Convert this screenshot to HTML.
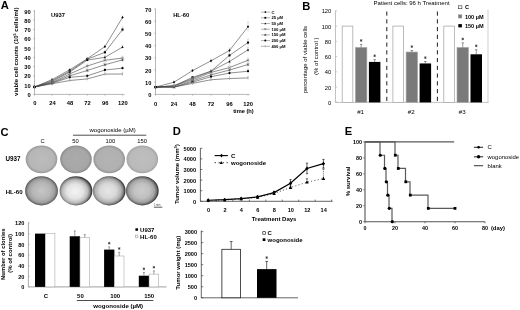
<!DOCTYPE html>
<html><head><meta charset="utf-8"><style>
html,body{margin:0;padding:0;background:#fff;}
body{width:520px;height:310px;overflow:hidden;}
svg{display:block;font-family:"Liberation Sans", sans-serif;filter:grayscale(1);}
</style></head><body>
<svg width="520" height="310" viewBox="0 0 520 310" font-family='"Liberation Sans", sans-serif'>
<rect width="520" height="310" fill="#fff"/>
<text transform="translate(0.80 8.75) scale(1 1.0)" font-size="11.2" font-weight="bold" fill="#000">A</text>
<line x1="34.50" y1="10.20" x2="34.50" y2="94.40" stroke="#888" stroke-width="0.6"/>
<line x1="34.50" y1="94.40" x2="124.50" y2="94.40" stroke="#888" stroke-width="0.6"/>
<line x1="33.20" y1="94.40" x2="34.50" y2="94.40" stroke="#888" stroke-width="0.5"/>
<text x="30.80" y="97.00" font-size="5.8" font-weight="bold" text-anchor="end" fill="#000">0</text>
<line x1="33.20" y1="85.13" x2="34.50" y2="85.13" stroke="#888" stroke-width="0.5"/>
<text x="30.80" y="87.73" font-size="5.8" font-weight="bold" text-anchor="end" fill="#000">10</text>
<line x1="33.20" y1="75.86" x2="34.50" y2="75.86" stroke="#888" stroke-width="0.5"/>
<text x="30.80" y="78.46" font-size="5.8" font-weight="bold" text-anchor="end" fill="#000">20</text>
<line x1="33.20" y1="66.59" x2="34.50" y2="66.59" stroke="#888" stroke-width="0.5"/>
<text x="30.80" y="69.19" font-size="5.8" font-weight="bold" text-anchor="end" fill="#000">30</text>
<line x1="33.20" y1="57.32" x2="34.50" y2="57.32" stroke="#888" stroke-width="0.5"/>
<text x="30.80" y="59.92" font-size="5.8" font-weight="bold" text-anchor="end" fill="#000">40</text>
<line x1="33.20" y1="48.05" x2="34.50" y2="48.05" stroke="#888" stroke-width="0.5"/>
<text x="30.80" y="50.65" font-size="5.8" font-weight="bold" text-anchor="end" fill="#000">50</text>
<line x1="33.20" y1="38.78" x2="34.50" y2="38.78" stroke="#888" stroke-width="0.5"/>
<text x="30.80" y="41.38" font-size="5.8" font-weight="bold" text-anchor="end" fill="#000">60</text>
<line x1="33.20" y1="29.51" x2="34.50" y2="29.51" stroke="#888" stroke-width="0.5"/>
<text x="30.80" y="32.11" font-size="5.8" font-weight="bold" text-anchor="end" fill="#000">70</text>
<line x1="33.20" y1="20.24" x2="34.50" y2="20.24" stroke="#888" stroke-width="0.5"/>
<text x="30.80" y="22.84" font-size="5.8" font-weight="bold" text-anchor="end" fill="#000">80</text>
<line x1="33.20" y1="10.97" x2="34.50" y2="10.97" stroke="#888" stroke-width="0.5"/>
<text x="30.80" y="13.57" font-size="5.8" font-weight="bold" text-anchor="end" fill="#000">90</text>
<line x1="34.50" y1="94.40" x2="34.50" y2="95.70" stroke="#888" stroke-width="0.5"/>
<text x="34.80" y="105.20" font-size="5.8" font-weight="bold" text-anchor="middle" fill="#000">0</text>
<line x1="52.10" y1="94.40" x2="52.10" y2="95.70" stroke="#888" stroke-width="0.5"/>
<text x="52.40" y="105.20" font-size="5.8" font-weight="bold" text-anchor="middle" fill="#000">24</text>
<line x1="69.70" y1="94.40" x2="69.70" y2="95.70" stroke="#888" stroke-width="0.5"/>
<text x="70.00" y="105.20" font-size="5.8" font-weight="bold" text-anchor="middle" fill="#000">48</text>
<line x1="87.30" y1="94.40" x2="87.30" y2="95.70" stroke="#888" stroke-width="0.5"/>
<text x="87.60" y="105.20" font-size="5.8" font-weight="bold" text-anchor="middle" fill="#000">72</text>
<line x1="104.90" y1="94.40" x2="104.90" y2="95.70" stroke="#888" stroke-width="0.5"/>
<text x="105.20" y="105.20" font-size="5.8" font-weight="bold" text-anchor="middle" fill="#000">96</text>
<line x1="122.50" y1="94.40" x2="122.50" y2="95.70" stroke="#888" stroke-width="0.5"/>
<text x="122.80" y="105.20" font-size="5.8" font-weight="bold" text-anchor="middle" fill="#000">120</text>
<text x="18.10" y="51.75" font-size="6.02" font-weight="bold" text-anchor="middle" fill="#000" transform="rotate(-90 18.1 51.75)">viable cell counts (10<tspan font-size="3.8" dy="-1.9">5</tspan><tspan dy="1.9"> cells/ml)</tspan></text>
<text x="51.00" y="17.00" font-size="5.8" font-weight="bold" text-anchor="start" fill="#000">U937</text>
<polyline points="34.50,86.98 52.10,79.57 69.70,69.83 87.30,58.71 104.90,46.66 122.50,17.46" fill="none" stroke="#444" stroke-width="0.6"/>
<polyline points="34.50,86.98 52.10,80.50 69.70,71.23 87.30,59.17 104.90,52.31 122.50,29.51" fill="none" stroke="#444" stroke-width="0.6"/>
<polyline points="34.50,86.98 52.10,81.42 69.70,72.15 87.30,60.10 104.90,57.32 122.50,47.12" fill="none" stroke="#444" stroke-width="0.6"/>
<polyline points="34.50,86.98 52.10,82.35 69.70,74.01 87.30,66.03 104.90,60.29 122.50,58.06" fill="none" stroke="#444" stroke-width="0.6"/>
<polyline points="34.50,86.98 52.10,82.81 69.70,75.86 87.30,70.48 104.90,64.74 122.50,59.92" fill="none" stroke="#444" stroke-width="0.6"/>
<polyline points="34.50,86.98 52.10,83.28 69.70,77.34 87.30,75.86 104.90,70.02 122.50,68.17" fill="none" stroke="#444" stroke-width="0.6"/>
<polyline points="34.50,86.98 52.10,83.74 69.70,80.50 87.30,78.92 104.90,74.10 122.50,74.01" fill="none" stroke="#444" stroke-width="0.6"/>
<path d="M34.50 85.60L35.65 86.98L34.50 88.36L33.35 86.98Z" fill="#000"/>
<line x1="52.10" y1="78.64" x2="52.10" y2="80.50" stroke="#bbb" stroke-width="0.5"/>
<line x1="51.30" y1="78.64" x2="52.90" y2="78.64" stroke="#bbb" stroke-width="0.5"/>
<path d="M52.10 78.19L53.25 79.57L52.10 80.95L50.95 79.57Z" fill="#000"/>
<line x1="69.70" y1="68.91" x2="69.70" y2="70.76" stroke="#bbb" stroke-width="0.5"/>
<line x1="68.90" y1="68.91" x2="70.50" y2="68.91" stroke="#bbb" stroke-width="0.5"/>
<path d="M69.70 68.45L70.85 69.83L69.70 71.21L68.55 69.83Z" fill="#000"/>
<line x1="87.30" y1="57.32" x2="87.30" y2="60.10" stroke="#bbb" stroke-width="0.5"/>
<line x1="86.50" y1="57.32" x2="88.10" y2="57.32" stroke="#bbb" stroke-width="0.5"/>
<path d="M87.30 57.33L88.45 58.71L87.30 60.09L86.15 58.71Z" fill="#000"/>
<line x1="104.90" y1="45.27" x2="104.90" y2="48.05" stroke="#bbb" stroke-width="0.5"/>
<line x1="104.10" y1="45.27" x2="105.70" y2="45.27" stroke="#bbb" stroke-width="0.5"/>
<path d="M104.90 45.28L106.05 46.66L104.90 48.04L103.75 46.66Z" fill="#000"/>
<line x1="122.50" y1="16.07" x2="122.50" y2="18.85" stroke="#bbb" stroke-width="0.5"/>
<line x1="121.70" y1="16.07" x2="123.30" y2="16.07" stroke="#bbb" stroke-width="0.5"/>
<path d="M122.50 16.08L123.65 17.46L122.50 18.84L121.35 17.46Z" fill="#000"/>
<rect x="33.47" y="85.95" width="2.07" height="2.07" fill="#000" stroke="none" stroke-width="0.6"/>
<line x1="52.10" y1="79.57" x2="52.10" y2="81.42" stroke="#bbb" stroke-width="0.5"/>
<line x1="51.30" y1="79.57" x2="52.90" y2="79.57" stroke="#bbb" stroke-width="0.5"/>
<rect x="51.07" y="79.46" width="2.07" height="2.07" fill="#000" stroke="none" stroke-width="0.6"/>
<line x1="69.70" y1="70.30" x2="69.70" y2="72.15" stroke="#bbb" stroke-width="0.5"/>
<line x1="68.90" y1="70.30" x2="70.50" y2="70.30" stroke="#bbb" stroke-width="0.5"/>
<rect x="68.67" y="70.19" width="2.07" height="2.07" fill="#000" stroke="none" stroke-width="0.6"/>
<line x1="87.30" y1="57.78" x2="87.30" y2="60.56" stroke="#bbb" stroke-width="0.5"/>
<line x1="86.50" y1="57.78" x2="88.10" y2="57.78" stroke="#bbb" stroke-width="0.5"/>
<rect x="86.27" y="58.14" width="2.07" height="2.07" fill="#000" stroke="none" stroke-width="0.6"/>
<line x1="104.90" y1="50.46" x2="104.90" y2="54.17" stroke="#bbb" stroke-width="0.5"/>
<line x1="104.10" y1="50.46" x2="105.70" y2="50.46" stroke="#bbb" stroke-width="0.5"/>
<rect x="103.87" y="51.28" width="2.07" height="2.07" fill="#000" stroke="none" stroke-width="0.6"/>
<line x1="122.50" y1="26.73" x2="122.50" y2="32.29" stroke="#bbb" stroke-width="0.5"/>
<line x1="121.70" y1="26.73" x2="123.30" y2="26.73" stroke="#bbb" stroke-width="0.5"/>
<rect x="121.47" y="28.48" width="2.07" height="2.07" fill="#000" stroke="none" stroke-width="0.6"/>
<path d="M34.50 85.72L35.65 87.90L33.35 87.90Z" fill="#000"/>
<line x1="52.10" y1="80.50" x2="52.10" y2="82.35" stroke="#bbb" stroke-width="0.5"/>
<line x1="51.30" y1="80.50" x2="52.90" y2="80.50" stroke="#bbb" stroke-width="0.5"/>
<path d="M52.10 80.16L53.25 82.34L50.95 82.34Z" fill="#000"/>
<line x1="69.70" y1="71.23" x2="69.70" y2="73.08" stroke="#bbb" stroke-width="0.5"/>
<line x1="68.90" y1="71.23" x2="70.50" y2="71.23" stroke="#bbb" stroke-width="0.5"/>
<path d="M69.70 70.89L70.85 73.07L68.55 73.07Z" fill="#000"/>
<line x1="87.30" y1="58.71" x2="87.30" y2="61.49" stroke="#bbb" stroke-width="0.5"/>
<line x1="86.50" y1="58.71" x2="88.10" y2="58.71" stroke="#bbb" stroke-width="0.5"/>
<path d="M87.30 58.84L88.45 61.02L86.15 61.02Z" fill="#000"/>
<line x1="104.90" y1="55.47" x2="104.90" y2="59.17" stroke="#bbb" stroke-width="0.5"/>
<line x1="104.10" y1="55.47" x2="105.70" y2="55.47" stroke="#bbb" stroke-width="0.5"/>
<path d="M104.90 56.06L106.05 58.24L103.75 58.24Z" fill="#000"/>
<line x1="122.50" y1="45.27" x2="122.50" y2="48.98" stroke="#bbb" stroke-width="0.5"/>
<line x1="121.70" y1="45.27" x2="123.30" y2="45.27" stroke="#bbb" stroke-width="0.5"/>
<path d="M122.50 45.86L123.65 48.04L121.35 48.04Z" fill="#000"/>
<line x1="33.35" y1="85.83" x2="35.65" y2="88.13" stroke="#555" stroke-width="0.6"/>
<line x1="33.35" y1="88.13" x2="35.65" y2="85.83" stroke="#555" stroke-width="0.6"/>
<line x1="52.10" y1="78.64" x2="52.10" y2="86.06" stroke="#bbb" stroke-width="0.5"/>
<line x1="51.30" y1="78.64" x2="52.90" y2="78.64" stroke="#bbb" stroke-width="0.5"/>
<line x1="50.95" y1="81.20" x2="53.25" y2="83.50" stroke="#555" stroke-width="0.6"/>
<line x1="50.95" y1="83.50" x2="53.25" y2="81.20" stroke="#555" stroke-width="0.6"/>
<line x1="69.70" y1="73.08" x2="69.70" y2="74.93" stroke="#bbb" stroke-width="0.5"/>
<line x1="68.90" y1="73.08" x2="70.50" y2="73.08" stroke="#bbb" stroke-width="0.5"/>
<line x1="68.55" y1="72.86" x2="70.85" y2="75.16" stroke="#555" stroke-width="0.6"/>
<line x1="68.55" y1="75.16" x2="70.85" y2="72.86" stroke="#555" stroke-width="0.6"/>
<line x1="87.30" y1="64.18" x2="87.30" y2="67.89" stroke="#bbb" stroke-width="0.5"/>
<line x1="86.50" y1="64.18" x2="88.10" y2="64.18" stroke="#bbb" stroke-width="0.5"/>
<line x1="86.15" y1="64.88" x2="88.45" y2="67.18" stroke="#555" stroke-width="0.6"/>
<line x1="86.15" y1="67.18" x2="88.45" y2="64.88" stroke="#555" stroke-width="0.6"/>
<line x1="104.90" y1="58.43" x2="104.90" y2="62.14" stroke="#bbb" stroke-width="0.5"/>
<line x1="104.10" y1="58.43" x2="105.70" y2="58.43" stroke="#bbb" stroke-width="0.5"/>
<line x1="103.75" y1="59.14" x2="106.05" y2="61.44" stroke="#555" stroke-width="0.6"/>
<line x1="103.75" y1="61.44" x2="106.05" y2="59.14" stroke="#555" stroke-width="0.6"/>
<line x1="122.50" y1="56.21" x2="122.50" y2="59.92" stroke="#bbb" stroke-width="0.5"/>
<line x1="121.70" y1="56.21" x2="123.30" y2="56.21" stroke="#bbb" stroke-width="0.5"/>
<line x1="121.35" y1="56.91" x2="123.65" y2="59.21" stroke="#555" stroke-width="0.6"/>
<line x1="121.35" y1="59.21" x2="123.65" y2="56.91" stroke="#555" stroke-width="0.6"/>
<line x1="33.35" y1="85.83" x2="35.65" y2="88.13" stroke="#444" stroke-width="0.6"/>
<line x1="33.35" y1="88.13" x2="35.65" y2="85.83" stroke="#444" stroke-width="0.6"/>
<line x1="34.50" y1="85.83" x2="34.50" y2="88.13" stroke="#444" stroke-width="0.6"/>
<line x1="52.10" y1="81.89" x2="52.10" y2="83.74" stroke="#bbb" stroke-width="0.5"/>
<line x1="51.30" y1="81.89" x2="52.90" y2="81.89" stroke="#bbb" stroke-width="0.5"/>
<line x1="50.95" y1="81.66" x2="53.25" y2="83.96" stroke="#444" stroke-width="0.6"/>
<line x1="50.95" y1="83.96" x2="53.25" y2="81.66" stroke="#444" stroke-width="0.6"/>
<line x1="52.10" y1="81.66" x2="52.10" y2="83.96" stroke="#444" stroke-width="0.6"/>
<line x1="69.70" y1="74.93" x2="69.70" y2="76.79" stroke="#bbb" stroke-width="0.5"/>
<line x1="68.90" y1="74.93" x2="70.50" y2="74.93" stroke="#bbb" stroke-width="0.5"/>
<line x1="68.55" y1="74.71" x2="70.85" y2="77.01" stroke="#444" stroke-width="0.6"/>
<line x1="68.55" y1="77.01" x2="70.85" y2="74.71" stroke="#444" stroke-width="0.6"/>
<line x1="69.70" y1="74.71" x2="69.70" y2="77.01" stroke="#444" stroke-width="0.6"/>
<line x1="87.30" y1="68.63" x2="87.30" y2="72.34" stroke="#bbb" stroke-width="0.5"/>
<line x1="86.50" y1="68.63" x2="88.10" y2="68.63" stroke="#bbb" stroke-width="0.5"/>
<line x1="86.15" y1="69.33" x2="88.45" y2="71.63" stroke="#444" stroke-width="0.6"/>
<line x1="86.15" y1="71.63" x2="88.45" y2="69.33" stroke="#444" stroke-width="0.6"/>
<line x1="87.30" y1="69.33" x2="87.30" y2="71.63" stroke="#444" stroke-width="0.6"/>
<line x1="104.90" y1="62.88" x2="104.90" y2="66.59" stroke="#bbb" stroke-width="0.5"/>
<line x1="104.10" y1="62.88" x2="105.70" y2="62.88" stroke="#bbb" stroke-width="0.5"/>
<line x1="103.75" y1="63.59" x2="106.05" y2="65.89" stroke="#444" stroke-width="0.6"/>
<line x1="103.75" y1="65.89" x2="106.05" y2="63.59" stroke="#444" stroke-width="0.6"/>
<line x1="104.90" y1="63.59" x2="104.90" y2="65.89" stroke="#444" stroke-width="0.6"/>
<line x1="122.50" y1="58.06" x2="122.50" y2="61.77" stroke="#bbb" stroke-width="0.5"/>
<line x1="121.70" y1="58.06" x2="123.30" y2="58.06" stroke="#bbb" stroke-width="0.5"/>
<line x1="121.35" y1="58.77" x2="123.65" y2="61.07" stroke="#444" stroke-width="0.6"/>
<line x1="121.35" y1="61.07" x2="123.65" y2="58.77" stroke="#444" stroke-width="0.6"/>
<line x1="122.50" y1="58.77" x2="122.50" y2="61.07" stroke="#444" stroke-width="0.6"/>
<circle cx="34.50" cy="86.98" r="1.15" fill="#000"/>
<line x1="52.10" y1="82.35" x2="52.10" y2="84.20" stroke="#bbb" stroke-width="0.5"/>
<line x1="51.30" y1="82.35" x2="52.90" y2="82.35" stroke="#bbb" stroke-width="0.5"/>
<circle cx="52.10" cy="83.28" r="1.15" fill="#000"/>
<line x1="69.70" y1="76.42" x2="69.70" y2="78.27" stroke="#bbb" stroke-width="0.5"/>
<line x1="68.90" y1="76.42" x2="70.50" y2="76.42" stroke="#bbb" stroke-width="0.5"/>
<circle cx="69.70" cy="77.34" r="1.15" fill="#000"/>
<line x1="87.30" y1="74.47" x2="87.30" y2="77.25" stroke="#bbb" stroke-width="0.5"/>
<line x1="86.50" y1="74.47" x2="88.10" y2="74.47" stroke="#bbb" stroke-width="0.5"/>
<circle cx="87.30" cy="75.86" r="1.15" fill="#000"/>
<line x1="104.90" y1="68.63" x2="104.90" y2="71.41" stroke="#bbb" stroke-width="0.5"/>
<line x1="104.10" y1="68.63" x2="105.70" y2="68.63" stroke="#bbb" stroke-width="0.5"/>
<circle cx="104.90" cy="70.02" r="1.15" fill="#000"/>
<line x1="122.50" y1="66.31" x2="122.50" y2="70.02" stroke="#bbb" stroke-width="0.5"/>
<line x1="121.70" y1="66.31" x2="123.30" y2="66.31" stroke="#bbb" stroke-width="0.5"/>
<circle cx="122.50" cy="68.17" r="1.15" fill="#000"/>
<line x1="34.50" y1="85.83" x2="34.50" y2="88.13" stroke="#999" stroke-width="0.7"/>
<line x1="52.10" y1="82.81" x2="52.10" y2="84.67" stroke="#bbb" stroke-width="0.5"/>
<line x1="51.30" y1="82.81" x2="52.90" y2="82.81" stroke="#bbb" stroke-width="0.5"/>
<line x1="52.10" y1="82.59" x2="52.10" y2="84.89" stroke="#999" stroke-width="0.7"/>
<line x1="69.70" y1="79.57" x2="69.70" y2="81.42" stroke="#bbb" stroke-width="0.5"/>
<line x1="68.90" y1="79.57" x2="70.50" y2="79.57" stroke="#bbb" stroke-width="0.5"/>
<line x1="69.70" y1="79.34" x2="69.70" y2="81.65" stroke="#999" stroke-width="0.7"/>
<line x1="87.30" y1="77.53" x2="87.30" y2="80.31" stroke="#bbb" stroke-width="0.5"/>
<line x1="86.50" y1="77.53" x2="88.10" y2="77.53" stroke="#bbb" stroke-width="0.5"/>
<line x1="87.30" y1="77.77" x2="87.30" y2="80.07" stroke="#999" stroke-width="0.7"/>
<line x1="104.90" y1="72.71" x2="104.90" y2="75.49" stroke="#bbb" stroke-width="0.5"/>
<line x1="104.10" y1="72.71" x2="105.70" y2="72.71" stroke="#bbb" stroke-width="0.5"/>
<line x1="104.90" y1="72.95" x2="104.90" y2="75.25" stroke="#999" stroke-width="0.7"/>
<line x1="122.50" y1="72.15" x2="122.50" y2="75.86" stroke="#bbb" stroke-width="0.5"/>
<line x1="121.70" y1="72.15" x2="123.30" y2="72.15" stroke="#bbb" stroke-width="0.5"/>
<line x1="122.50" y1="72.86" x2="122.50" y2="75.16" stroke="#999" stroke-width="0.7"/>
<line x1="155.50" y1="8.50" x2="155.50" y2="94.40" stroke="#888" stroke-width="0.6"/>
<line x1="155.50" y1="94.40" x2="249.50" y2="94.40" stroke="#888" stroke-width="0.6"/>
<line x1="154.20" y1="94.40" x2="155.50" y2="94.40" stroke="#888" stroke-width="0.5"/>
<text x="151.30" y="97.00" font-size="5.7" font-weight="bold" text-anchor="end" fill="#000">0</text>
<line x1="154.20" y1="82.20" x2="155.50" y2="82.20" stroke="#888" stroke-width="0.5"/>
<text x="151.30" y="84.80" font-size="5.7" font-weight="bold" text-anchor="end" fill="#000">10</text>
<line x1="154.20" y1="70.00" x2="155.50" y2="70.00" stroke="#888" stroke-width="0.5"/>
<text x="151.30" y="72.60" font-size="5.7" font-weight="bold" text-anchor="end" fill="#000">20</text>
<line x1="154.20" y1="57.80" x2="155.50" y2="57.80" stroke="#888" stroke-width="0.5"/>
<text x="151.30" y="60.40" font-size="5.7" font-weight="bold" text-anchor="end" fill="#000">30</text>
<line x1="154.20" y1="45.60" x2="155.50" y2="45.60" stroke="#888" stroke-width="0.5"/>
<text x="151.30" y="48.20" font-size="5.7" font-weight="bold" text-anchor="end" fill="#000">40</text>
<line x1="154.20" y1="33.40" x2="155.50" y2="33.40" stroke="#888" stroke-width="0.5"/>
<text x="151.30" y="36.00" font-size="5.7" font-weight="bold" text-anchor="end" fill="#000">50</text>
<line x1="154.20" y1="21.20" x2="155.50" y2="21.20" stroke="#888" stroke-width="0.5"/>
<text x="151.30" y="23.80" font-size="5.7" font-weight="bold" text-anchor="end" fill="#000">60</text>
<line x1="154.20" y1="9.00" x2="155.50" y2="9.00" stroke="#888" stroke-width="0.5"/>
<text x="151.30" y="11.60" font-size="5.7" font-weight="bold" text-anchor="end" fill="#000">70</text>
<line x1="155.50" y1="94.40" x2="155.50" y2="95.70" stroke="#888" stroke-width="0.5"/>
<text x="155.60" y="106.00" font-size="5.8" font-weight="bold" text-anchor="middle" fill="#000">0</text>
<line x1="174.00" y1="94.40" x2="174.00" y2="95.70" stroke="#888" stroke-width="0.5"/>
<text x="174.10" y="106.00" font-size="5.8" font-weight="bold" text-anchor="middle" fill="#000">24</text>
<line x1="192.50" y1="94.40" x2="192.50" y2="95.70" stroke="#888" stroke-width="0.5"/>
<text x="192.60" y="106.00" font-size="5.8" font-weight="bold" text-anchor="middle" fill="#000">48</text>
<line x1="211.00" y1="94.40" x2="211.00" y2="95.70" stroke="#888" stroke-width="0.5"/>
<text x="211.10" y="106.00" font-size="5.8" font-weight="bold" text-anchor="middle" fill="#000">72</text>
<line x1="229.50" y1="94.40" x2="229.50" y2="95.70" stroke="#888" stroke-width="0.5"/>
<text x="229.60" y="106.00" font-size="5.8" font-weight="bold" text-anchor="middle" fill="#000">96</text>
<line x1="248.00" y1="94.40" x2="248.00" y2="95.70" stroke="#888" stroke-width="0.5"/>
<text x="248.10" y="106.00" font-size="5.8" font-weight="bold" text-anchor="middle" fill="#000">120</text>
<text x="233.20" y="113.00" font-size="5.7" font-weight="bold" text-anchor="start" fill="#000">time (h)</text>
<text x="173.20" y="16.50" font-size="5.8" font-weight="bold" text-anchor="start" fill="#000">HL-60</text>
<polyline points="155.50,87.08 174.00,82.20 192.50,70.61 211.00,60.85 229.50,50.48 248.00,26.69" fill="none" stroke="#444" stroke-width="0.6"/>
<polyline points="155.50,87.08 174.00,85.86 192.50,77.32 211.00,71.22 229.50,55.36 248.00,42.55" fill="none" stroke="#444" stroke-width="0.6"/>
<polyline points="155.50,87.08 174.00,85.86 192.50,78.54 211.00,71.22 229.50,61.46 248.00,49.87" fill="none" stroke="#444" stroke-width="0.6"/>
<polyline points="155.50,87.08 174.00,85.86 192.50,79.76 211.00,72.44 229.50,67.56 248.00,60.24" fill="none" stroke="#444" stroke-width="0.6"/>
<polyline points="155.50,87.08 174.00,87.08 192.50,80.98 211.00,74.88 229.50,70.00 248.00,64.51" fill="none" stroke="#444" stroke-width="0.6"/>
<polyline points="155.50,87.08 174.00,87.08 192.50,82.20 211.00,76.71 229.50,73.05 248.00,71.22" fill="none" stroke="#444" stroke-width="0.6"/>
<polyline points="155.50,87.08 174.00,87.08 192.50,83.42 211.00,79.76 229.50,78.54 248.00,77.93" fill="none" stroke="#444" stroke-width="0.6"/>
<path d="M155.50 85.70L156.65 87.08L155.50 88.46L154.35 87.08Z" fill="#000"/>
<line x1="174.00" y1="80.98" x2="174.00" y2="83.42" stroke="#bbb" stroke-width="0.5"/>
<line x1="173.20" y1="80.98" x2="174.80" y2="80.98" stroke="#bbb" stroke-width="0.5"/>
<path d="M174.00 80.82L175.15 82.20L174.00 83.58L172.85 82.20Z" fill="#000"/>
<line x1="192.50" y1="69.39" x2="192.50" y2="71.83" stroke="#bbb" stroke-width="0.5"/>
<line x1="191.70" y1="69.39" x2="193.30" y2="69.39" stroke="#bbb" stroke-width="0.5"/>
<path d="M192.50 69.23L193.65 70.61L192.50 71.99L191.35 70.61Z" fill="#000"/>
<line x1="211.00" y1="59.02" x2="211.00" y2="62.68" stroke="#bbb" stroke-width="0.5"/>
<line x1="210.20" y1="59.02" x2="211.80" y2="59.02" stroke="#bbb" stroke-width="0.5"/>
<path d="M211.00 59.47L212.15 60.85L211.00 62.23L209.85 60.85Z" fill="#000"/>
<line x1="229.50" y1="48.04" x2="229.50" y2="52.92" stroke="#bbb" stroke-width="0.5"/>
<line x1="228.70" y1="48.04" x2="230.30" y2="48.04" stroke="#bbb" stroke-width="0.5"/>
<path d="M229.50 49.10L230.65 50.48L229.50 51.86L228.35 50.48Z" fill="#000"/>
<line x1="248.00" y1="21.81" x2="248.00" y2="31.57" stroke="#bbb" stroke-width="0.5"/>
<line x1="247.20" y1="21.81" x2="248.80" y2="21.81" stroke="#bbb" stroke-width="0.5"/>
<path d="M248.00 25.31L249.15 26.69L248.00 28.07L246.85 26.69Z" fill="#000"/>
<rect x="154.47" y="86.05" width="2.07" height="2.07" fill="#000" stroke="none" stroke-width="0.6"/>
<line x1="174.00" y1="84.64" x2="174.00" y2="87.08" stroke="#bbb" stroke-width="0.5"/>
<line x1="173.20" y1="84.64" x2="174.80" y2="84.64" stroke="#bbb" stroke-width="0.5"/>
<rect x="172.97" y="84.83" width="2.07" height="2.07" fill="#000" stroke="none" stroke-width="0.6"/>
<line x1="192.50" y1="76.10" x2="192.50" y2="78.54" stroke="#bbb" stroke-width="0.5"/>
<line x1="191.70" y1="76.10" x2="193.30" y2="76.10" stroke="#bbb" stroke-width="0.5"/>
<rect x="191.47" y="76.29" width="2.07" height="2.07" fill="#000" stroke="none" stroke-width="0.6"/>
<line x1="211.00" y1="69.39" x2="211.00" y2="73.05" stroke="#bbb" stroke-width="0.5"/>
<line x1="210.20" y1="69.39" x2="211.80" y2="69.39" stroke="#bbb" stroke-width="0.5"/>
<rect x="209.97" y="70.19" width="2.07" height="2.07" fill="#000" stroke="none" stroke-width="0.6"/>
<line x1="229.50" y1="52.92" x2="229.50" y2="57.80" stroke="#bbb" stroke-width="0.5"/>
<line x1="228.70" y1="52.92" x2="230.30" y2="52.92" stroke="#bbb" stroke-width="0.5"/>
<rect x="228.47" y="54.33" width="2.07" height="2.07" fill="#000" stroke="none" stroke-width="0.6"/>
<line x1="248.00" y1="38.89" x2="248.00" y2="46.21" stroke="#bbb" stroke-width="0.5"/>
<line x1="247.20" y1="38.89" x2="248.80" y2="38.89" stroke="#bbb" stroke-width="0.5"/>
<rect x="246.97" y="41.52" width="2.07" height="2.07" fill="#000" stroke="none" stroke-width="0.6"/>
<path d="M155.50 85.82L156.65 88.00L154.35 88.00Z" fill="#000"/>
<line x1="174.00" y1="84.64" x2="174.00" y2="87.08" stroke="#bbb" stroke-width="0.5"/>
<line x1="173.20" y1="84.64" x2="174.80" y2="84.64" stroke="#bbb" stroke-width="0.5"/>
<path d="M174.00 84.60L175.15 86.78L172.85 86.78Z" fill="#000"/>
<line x1="192.50" y1="77.32" x2="192.50" y2="79.76" stroke="#bbb" stroke-width="0.5"/>
<line x1="191.70" y1="77.32" x2="193.30" y2="77.32" stroke="#bbb" stroke-width="0.5"/>
<path d="M192.50 77.28L193.65 79.46L191.35 79.46Z" fill="#000"/>
<line x1="211.00" y1="69.39" x2="211.00" y2="73.05" stroke="#bbb" stroke-width="0.5"/>
<line x1="210.20" y1="69.39" x2="211.80" y2="69.39" stroke="#bbb" stroke-width="0.5"/>
<path d="M211.00 69.95L212.15 72.14L209.85 72.14Z" fill="#000"/>
<line x1="229.50" y1="59.02" x2="229.50" y2="63.90" stroke="#bbb" stroke-width="0.5"/>
<line x1="228.70" y1="59.02" x2="230.30" y2="59.02" stroke="#bbb" stroke-width="0.5"/>
<path d="M229.50 60.20L230.65 62.38L228.35 62.38Z" fill="#000"/>
<line x1="248.00" y1="47.43" x2="248.00" y2="52.31" stroke="#bbb" stroke-width="0.5"/>
<line x1="247.20" y1="47.43" x2="248.80" y2="47.43" stroke="#bbb" stroke-width="0.5"/>
<path d="M248.00 48.61L249.15 50.79L246.85 50.79Z" fill="#000"/>
<line x1="154.35" y1="85.93" x2="156.65" y2="88.23" stroke="#555" stroke-width="0.6"/>
<line x1="154.35" y1="88.23" x2="156.65" y2="85.93" stroke="#555" stroke-width="0.6"/>
<line x1="174.00" y1="84.64" x2="174.00" y2="87.08" stroke="#bbb" stroke-width="0.5"/>
<line x1="173.20" y1="84.64" x2="174.80" y2="84.64" stroke="#bbb" stroke-width="0.5"/>
<line x1="172.85" y1="84.71" x2="175.15" y2="87.01" stroke="#555" stroke-width="0.6"/>
<line x1="172.85" y1="87.01" x2="175.15" y2="84.71" stroke="#555" stroke-width="0.6"/>
<line x1="192.50" y1="78.54" x2="192.50" y2="80.98" stroke="#bbb" stroke-width="0.5"/>
<line x1="191.70" y1="78.54" x2="193.30" y2="78.54" stroke="#bbb" stroke-width="0.5"/>
<line x1="191.35" y1="78.61" x2="193.65" y2="80.91" stroke="#555" stroke-width="0.6"/>
<line x1="191.35" y1="80.91" x2="193.65" y2="78.61" stroke="#555" stroke-width="0.6"/>
<line x1="211.00" y1="70.61" x2="211.00" y2="74.27" stroke="#bbb" stroke-width="0.5"/>
<line x1="210.20" y1="70.61" x2="211.80" y2="70.61" stroke="#bbb" stroke-width="0.5"/>
<line x1="209.85" y1="71.29" x2="212.15" y2="73.59" stroke="#555" stroke-width="0.6"/>
<line x1="209.85" y1="73.59" x2="212.15" y2="71.29" stroke="#555" stroke-width="0.6"/>
<line x1="229.50" y1="65.12" x2="229.50" y2="70.00" stroke="#bbb" stroke-width="0.5"/>
<line x1="228.70" y1="65.12" x2="230.30" y2="65.12" stroke="#bbb" stroke-width="0.5"/>
<line x1="228.35" y1="66.41" x2="230.65" y2="68.71" stroke="#555" stroke-width="0.6"/>
<line x1="228.35" y1="68.71" x2="230.65" y2="66.41" stroke="#555" stroke-width="0.6"/>
<line x1="248.00" y1="57.80" x2="248.00" y2="62.68" stroke="#bbb" stroke-width="0.5"/>
<line x1="247.20" y1="57.80" x2="248.80" y2="57.80" stroke="#bbb" stroke-width="0.5"/>
<line x1="246.85" y1="59.09" x2="249.15" y2="61.39" stroke="#555" stroke-width="0.6"/>
<line x1="246.85" y1="61.39" x2="249.15" y2="59.09" stroke="#555" stroke-width="0.6"/>
<line x1="154.35" y1="85.93" x2="156.65" y2="88.23" stroke="#444" stroke-width="0.6"/>
<line x1="154.35" y1="88.23" x2="156.65" y2="85.93" stroke="#444" stroke-width="0.6"/>
<line x1="155.50" y1="85.93" x2="155.50" y2="88.23" stroke="#444" stroke-width="0.6"/>
<line x1="174.00" y1="85.86" x2="174.00" y2="88.30" stroke="#bbb" stroke-width="0.5"/>
<line x1="173.20" y1="85.86" x2="174.80" y2="85.86" stroke="#bbb" stroke-width="0.5"/>
<line x1="172.85" y1="85.93" x2="175.15" y2="88.23" stroke="#444" stroke-width="0.6"/>
<line x1="172.85" y1="88.23" x2="175.15" y2="85.93" stroke="#444" stroke-width="0.6"/>
<line x1="174.00" y1="85.93" x2="174.00" y2="88.23" stroke="#444" stroke-width="0.6"/>
<line x1="192.50" y1="79.76" x2="192.50" y2="82.20" stroke="#bbb" stroke-width="0.5"/>
<line x1="191.70" y1="79.76" x2="193.30" y2="79.76" stroke="#bbb" stroke-width="0.5"/>
<line x1="191.35" y1="79.83" x2="193.65" y2="82.13" stroke="#444" stroke-width="0.6"/>
<line x1="191.35" y1="82.13" x2="193.65" y2="79.83" stroke="#444" stroke-width="0.6"/>
<line x1="192.50" y1="79.83" x2="192.50" y2="82.13" stroke="#444" stroke-width="0.6"/>
<line x1="211.00" y1="73.05" x2="211.00" y2="76.71" stroke="#bbb" stroke-width="0.5"/>
<line x1="210.20" y1="73.05" x2="211.80" y2="73.05" stroke="#bbb" stroke-width="0.5"/>
<line x1="209.85" y1="73.73" x2="212.15" y2="76.03" stroke="#444" stroke-width="0.6"/>
<line x1="209.85" y1="76.03" x2="212.15" y2="73.73" stroke="#444" stroke-width="0.6"/>
<line x1="211.00" y1="73.73" x2="211.00" y2="76.03" stroke="#444" stroke-width="0.6"/>
<line x1="229.50" y1="67.56" x2="229.50" y2="72.44" stroke="#bbb" stroke-width="0.5"/>
<line x1="228.70" y1="67.56" x2="230.30" y2="67.56" stroke="#bbb" stroke-width="0.5"/>
<line x1="228.35" y1="68.85" x2="230.65" y2="71.15" stroke="#444" stroke-width="0.6"/>
<line x1="228.35" y1="71.15" x2="230.65" y2="68.85" stroke="#444" stroke-width="0.6"/>
<line x1="229.50" y1="68.85" x2="229.50" y2="71.15" stroke="#444" stroke-width="0.6"/>
<line x1="248.00" y1="62.07" x2="248.00" y2="66.95" stroke="#bbb" stroke-width="0.5"/>
<line x1="247.20" y1="62.07" x2="248.80" y2="62.07" stroke="#bbb" stroke-width="0.5"/>
<line x1="246.85" y1="63.36" x2="249.15" y2="65.66" stroke="#444" stroke-width="0.6"/>
<line x1="246.85" y1="65.66" x2="249.15" y2="63.36" stroke="#444" stroke-width="0.6"/>
<line x1="248.00" y1="63.36" x2="248.00" y2="65.66" stroke="#444" stroke-width="0.6"/>
<circle cx="155.50" cy="87.08" r="1.15" fill="#000"/>
<line x1="174.00" y1="85.86" x2="174.00" y2="88.30" stroke="#bbb" stroke-width="0.5"/>
<line x1="173.20" y1="85.86" x2="174.80" y2="85.86" stroke="#bbb" stroke-width="0.5"/>
<circle cx="174.00" cy="87.08" r="1.15" fill="#000"/>
<line x1="192.50" y1="80.98" x2="192.50" y2="83.42" stroke="#bbb" stroke-width="0.5"/>
<line x1="191.70" y1="80.98" x2="193.30" y2="80.98" stroke="#bbb" stroke-width="0.5"/>
<circle cx="192.50" cy="82.20" r="1.15" fill="#000"/>
<line x1="211.00" y1="74.88" x2="211.00" y2="78.54" stroke="#bbb" stroke-width="0.5"/>
<line x1="210.20" y1="74.88" x2="211.80" y2="74.88" stroke="#bbb" stroke-width="0.5"/>
<circle cx="211.00" cy="76.71" r="1.15" fill="#000"/>
<line x1="229.50" y1="71.22" x2="229.50" y2="74.88" stroke="#bbb" stroke-width="0.5"/>
<line x1="228.70" y1="71.22" x2="230.30" y2="71.22" stroke="#bbb" stroke-width="0.5"/>
<circle cx="229.50" cy="73.05" r="1.15" fill="#000"/>
<line x1="248.00" y1="68.78" x2="248.00" y2="73.66" stroke="#bbb" stroke-width="0.5"/>
<line x1="247.20" y1="68.78" x2="248.80" y2="68.78" stroke="#bbb" stroke-width="0.5"/>
<circle cx="248.00" cy="71.22" r="1.15" fill="#000"/>
<line x1="155.50" y1="85.93" x2="155.50" y2="88.23" stroke="#999" stroke-width="0.7"/>
<line x1="174.00" y1="85.86" x2="174.00" y2="88.30" stroke="#bbb" stroke-width="0.5"/>
<line x1="173.20" y1="85.86" x2="174.80" y2="85.86" stroke="#bbb" stroke-width="0.5"/>
<line x1="174.00" y1="85.93" x2="174.00" y2="88.23" stroke="#999" stroke-width="0.7"/>
<line x1="192.50" y1="82.20" x2="192.50" y2="84.64" stroke="#bbb" stroke-width="0.5"/>
<line x1="191.70" y1="82.20" x2="193.30" y2="82.20" stroke="#bbb" stroke-width="0.5"/>
<line x1="192.50" y1="82.27" x2="192.50" y2="84.57" stroke="#999" stroke-width="0.7"/>
<line x1="211.00" y1="77.93" x2="211.00" y2="81.59" stroke="#bbb" stroke-width="0.5"/>
<line x1="210.20" y1="77.93" x2="211.80" y2="77.93" stroke="#bbb" stroke-width="0.5"/>
<line x1="211.00" y1="78.61" x2="211.00" y2="80.91" stroke="#999" stroke-width="0.7"/>
<line x1="229.50" y1="76.71" x2="229.50" y2="80.37" stroke="#bbb" stroke-width="0.5"/>
<line x1="228.70" y1="76.71" x2="230.30" y2="76.71" stroke="#bbb" stroke-width="0.5"/>
<line x1="229.50" y1="77.39" x2="229.50" y2="79.69" stroke="#999" stroke-width="0.7"/>
<line x1="248.00" y1="76.10" x2="248.00" y2="79.76" stroke="#bbb" stroke-width="0.5"/>
<line x1="247.20" y1="76.10" x2="248.80" y2="76.10" stroke="#bbb" stroke-width="0.5"/>
<line x1="248.00" y1="76.78" x2="248.00" y2="79.08" stroke="#999" stroke-width="0.7"/>
<line x1="261.00" y1="12.10" x2="270.00" y2="12.10" stroke="#777" stroke-width="0.55"/>
<path d="M265.30 10.90L266.30 12.10L265.30 13.30L264.30 12.10Z" fill="#000"/>
<text x="271.40" y="13.60" font-size="4.2" font-weight="bold" text-anchor="start" fill="#000">C</text>
<line x1="261.00" y1="17.80" x2="270.00" y2="17.80" stroke="#777" stroke-width="0.55"/>
<rect x="264.40" y="16.90" width="1.80" height="1.80" fill="#000" stroke="none" stroke-width="0.6"/>
<text x="271.40" y="19.30" font-size="4.2" font-weight="bold" text-anchor="start" fill="#000">25 µM</text>
<line x1="261.00" y1="23.50" x2="270.00" y2="23.50" stroke="#777" stroke-width="0.55"/>
<path d="M265.30 22.40L266.30 24.30L264.30 24.30Z" fill="#000"/>
<text x="271.40" y="25.00" font-size="4.2" font-weight="bold" text-anchor="start" fill="#000">50 µM</text>
<line x1="261.00" y1="29.20" x2="270.00" y2="29.20" stroke="#777" stroke-width="0.55"/>
<line x1="264.30" y1="28.20" x2="266.30" y2="30.20" stroke="#555" stroke-width="0.6"/>
<line x1="264.30" y1="30.20" x2="266.30" y2="28.20" stroke="#555" stroke-width="0.6"/>
<text x="271.40" y="30.70" font-size="4.2" font-weight="bold" text-anchor="start" fill="#000">100 µM</text>
<line x1="261.00" y1="34.90" x2="270.00" y2="34.90" stroke="#777" stroke-width="0.55"/>
<line x1="264.30" y1="33.90" x2="266.30" y2="35.90" stroke="#444" stroke-width="0.6"/>
<line x1="264.30" y1="35.90" x2="266.30" y2="33.90" stroke="#444" stroke-width="0.6"/>
<line x1="265.30" y1="33.90" x2="265.30" y2="35.90" stroke="#444" stroke-width="0.6"/>
<text x="271.40" y="36.40" font-size="4.2" font-weight="bold" text-anchor="start" fill="#000">150 µM</text>
<line x1="261.00" y1="40.60" x2="270.00" y2="40.60" stroke="#777" stroke-width="0.55"/>
<circle cx="265.30" cy="40.60" r="1.00" fill="#000"/>
<text x="271.40" y="42.10" font-size="4.2" font-weight="bold" text-anchor="start" fill="#000">200 µM</text>
<line x1="261.00" y1="46.30" x2="270.00" y2="46.30" stroke="#777" stroke-width="0.55"/>
<line x1="265.30" y1="45.30" x2="265.30" y2="47.30" stroke="#999" stroke-width="0.7"/>
<text x="271.40" y="47.80" font-size="4.2" font-weight="bold" text-anchor="start" fill="#000">400 µM</text>
<text transform="translate(302.30 9.60) scale(1 1.05)" font-size="11.2" font-weight="bold" fill="#000">B</text>
<text x="411.60" y="5.30" font-size="6.0" font-weight="normal" text-anchor="middle" fill="#000">Patient cells: 96 h Treatment</text>
<line x1="335.50" y1="10.50" x2="335.50" y2="102.40" stroke="#999" stroke-width="0.6"/>
<line x1="335.50" y1="102.40" x2="488.50" y2="102.40" stroke="#999" stroke-width="0.6"/>
<line x1="488.00" y1="9.70" x2="488.00" y2="102.30" stroke="#bbb" stroke-width="0.7"/>
<line x1="335.50" y1="102.30" x2="337.20" y2="102.30" stroke="#999" stroke-width="0.5"/>
<text x="331.30" y="104.90" font-size="5.8" font-weight="normal" text-anchor="end" fill="#000">0</text>
<line x1="335.50" y1="87.06" x2="337.20" y2="87.06" stroke="#999" stroke-width="0.5"/>
<text x="331.30" y="89.66" font-size="5.8" font-weight="normal" text-anchor="end" fill="#000">20</text>
<line x1="335.50" y1="71.82" x2="337.20" y2="71.82" stroke="#999" stroke-width="0.5"/>
<text x="331.30" y="74.42" font-size="5.8" font-weight="normal" text-anchor="end" fill="#000">40</text>
<line x1="335.50" y1="56.58" x2="337.20" y2="56.58" stroke="#999" stroke-width="0.5"/>
<text x="331.30" y="59.18" font-size="5.8" font-weight="normal" text-anchor="end" fill="#000">60</text>
<line x1="335.50" y1="41.34" x2="337.20" y2="41.34" stroke="#999" stroke-width="0.5"/>
<text x="331.30" y="43.94" font-size="5.8" font-weight="normal" text-anchor="end" fill="#000">80</text>
<line x1="335.50" y1="26.10" x2="337.20" y2="26.10" stroke="#999" stroke-width="0.5"/>
<text x="331.30" y="28.70" font-size="5.8" font-weight="normal" text-anchor="end" fill="#000">100</text>
<line x1="335.50" y1="10.86" x2="337.20" y2="10.86" stroke="#999" stroke-width="0.5"/>
<text x="331.30" y="13.46" font-size="5.8" font-weight="normal" text-anchor="end" fill="#000">120</text>
<text x="307.20" y="59.60" font-size="5.97" font-weight="normal" text-anchor="middle" fill="#000" transform="rotate(-90 307.2 59.6)">percentage of viable cells</text>
<text x="318.10" y="56.25" font-size="6.0" font-weight="normal" text-anchor="middle" fill="#000" transform="rotate(-90 318.1 56.25)">(% of control )</text>
<rect x="342.20" y="26.10" width="10.60" height="76.30" fill="#fff" stroke="#aaa" stroke-width="0.8"/>
<rect x="355.40" y="47.44" width="11.50" height="54.96" fill="#7a7a7a" stroke="#aaa" stroke-width="0.6"/>
<line x1="361.15" y1="47.44" x2="361.15" y2="44.39" stroke="#333" stroke-width="0.5"/>
<line x1="359.90" y1="44.39" x2="362.40" y2="44.39" stroke="#333" stroke-width="0.5"/>
<line x1="361.15" y1="39.19" x2="361.15" y2="41.79" stroke="#333" stroke-width="0.75"/>
<line x1="360.02" y1="39.84" x2="362.28" y2="41.14" stroke="#333" stroke-width="0.75"/>
<line x1="362.28" y1="39.84" x2="360.02" y2="41.14" stroke="#333" stroke-width="0.75"/>
<rect x="368.90" y="61.91" width="11.50" height="40.49" fill="#000" stroke="none" stroke-width="0.6"/>
<line x1="374.65" y1="61.91" x2="374.65" y2="59.63" stroke="#333" stroke-width="0.5"/>
<line x1="373.40" y1="59.63" x2="375.90" y2="59.63" stroke="#333" stroke-width="0.5"/>
<line x1="374.65" y1="54.43" x2="374.65" y2="57.03" stroke="#333" stroke-width="0.75"/>
<line x1="373.52" y1="55.08" x2="375.78" y2="56.38" stroke="#333" stroke-width="0.75"/>
<line x1="375.78" y1="55.08" x2="373.52" y2="56.38" stroke="#333" stroke-width="0.75"/>
<text x="360.60" y="113.80" font-size="6.2" font-weight="normal" text-anchor="middle" fill="#000">#1</text>
<rect x="392.90" y="26.10" width="10.60" height="76.30" fill="#fff" stroke="#aaa" stroke-width="0.8"/>
<rect x="406.10" y="52.01" width="11.50" height="50.39" fill="#7a7a7a" stroke="#aaa" stroke-width="0.6"/>
<line x1="411.85" y1="52.01" x2="411.85" y2="50.48" stroke="#333" stroke-width="0.5"/>
<line x1="410.60" y1="50.48" x2="413.10" y2="50.48" stroke="#333" stroke-width="0.5"/>
<line x1="411.85" y1="45.28" x2="411.85" y2="47.88" stroke="#333" stroke-width="0.75"/>
<line x1="410.72" y1="45.93" x2="412.98" y2="47.23" stroke="#333" stroke-width="0.75"/>
<line x1="412.98" y1="45.93" x2="410.72" y2="47.23" stroke="#333" stroke-width="0.75"/>
<rect x="419.60" y="63.44" width="11.50" height="38.96" fill="#000" stroke="none" stroke-width="0.6"/>
<line x1="425.35" y1="63.44" x2="425.35" y2="61.53" stroke="#333" stroke-width="0.5"/>
<line x1="424.10" y1="61.53" x2="426.60" y2="61.53" stroke="#333" stroke-width="0.5"/>
<line x1="425.35" y1="56.33" x2="425.35" y2="58.93" stroke="#333" stroke-width="0.75"/>
<line x1="424.22" y1="56.98" x2="426.48" y2="58.28" stroke="#333" stroke-width="0.75"/>
<line x1="426.48" y1="56.98" x2="424.22" y2="58.28" stroke="#333" stroke-width="0.75"/>
<text x="411.30" y="113.80" font-size="6.2" font-weight="normal" text-anchor="middle" fill="#000">#2</text>
<rect x="443.80" y="26.10" width="10.60" height="76.30" fill="#fff" stroke="#aaa" stroke-width="0.8"/>
<rect x="457.00" y="47.44" width="11.50" height="54.96" fill="#7a7a7a" stroke="#aaa" stroke-width="0.6"/>
<line x1="462.75" y1="47.44" x2="462.75" y2="42.86" stroke="#333" stroke-width="0.5"/>
<line x1="461.50" y1="42.86" x2="464.00" y2="42.86" stroke="#333" stroke-width="0.5"/>
<line x1="462.75" y1="37.66" x2="462.75" y2="40.26" stroke="#333" stroke-width="0.75"/>
<line x1="461.62" y1="38.31" x2="463.88" y2="39.61" stroke="#333" stroke-width="0.75"/>
<line x1="463.88" y1="38.31" x2="461.62" y2="39.61" stroke="#333" stroke-width="0.75"/>
<rect x="470.50" y="54.29" width="11.50" height="48.11" fill="#000" stroke="none" stroke-width="0.6"/>
<line x1="476.25" y1="54.29" x2="476.25" y2="49.72" stroke="#333" stroke-width="0.5"/>
<line x1="475.00" y1="49.72" x2="477.50" y2="49.72" stroke="#333" stroke-width="0.5"/>
<line x1="476.25" y1="44.52" x2="476.25" y2="47.12" stroke="#333" stroke-width="0.75"/>
<line x1="475.12" y1="45.17" x2="477.38" y2="46.47" stroke="#333" stroke-width="0.75"/>
<line x1="477.38" y1="45.17" x2="475.12" y2="46.47" stroke="#333" stroke-width="0.75"/>
<text x="462.20" y="113.80" font-size="6.2" font-weight="normal" text-anchor="middle" fill="#000">#3</text>
<line x1="386.80" y1="11.50" x2="386.80" y2="102.40" stroke="#111" stroke-width="0.95" stroke-dasharray="4.2 3.55"/>
<line x1="437.40" y1="11.50" x2="437.40" y2="102.40" stroke="#111" stroke-width="0.95" stroke-dasharray="4.2 3.55"/>
<rect x="458.60" y="5.80" width="3.30" height="2.90" fill="#fff" stroke="#333" stroke-width="0.6"/>
<text x="464.90" y="9.20" font-size="5.6" font-weight="bold" text-anchor="start" fill="#000">C</text>
<rect x="458.30" y="14.70" width="3.60" height="3.40" fill="#7a7a7a" stroke="#aaa" stroke-width="0.4"/>
<text x="464.90" y="19.00" font-size="5.6" font-weight="bold" text-anchor="start" fill="#000">100 µM</text>
<rect x="458.30" y="24.10" width="3.60" height="3.30" fill="#000" stroke="none" stroke-width="0.6"/>
<text x="464.90" y="28.10" font-size="5.6" font-weight="bold" text-anchor="start" fill="#000">150 µM</text>
<text transform="translate(0.40 135.70) scale(1 1.05)" font-size="11.2" font-weight="bold" fill="#000">C</text>
<text x="112.60" y="131.70" font-size="6.0" font-weight="normal" text-anchor="middle" fill="#000">wogonoside (µM)</text>
<line x1="73.00" y1="135.20" x2="146.30" y2="135.20" stroke="#000" stroke-width="0.7"/>
<text x="42.60" y="142.60" font-size="5.8" font-weight="normal" text-anchor="middle" fill="#000">C</text>
<text x="75.50" y="142.60" font-size="5.8" font-weight="normal" text-anchor="middle" fill="#000">50</text>
<text x="110.30" y="142.60" font-size="5.8" font-weight="normal" text-anchor="middle" fill="#000">100</text>
<text x="142.20" y="142.60" font-size="5.8" font-weight="normal" text-anchor="middle" fill="#000">150</text>
<text x="5.50" y="160.80" font-size="6.3" font-weight="bold" text-anchor="start" fill="#000">U937</text>
<text x="5.70" y="194.00" font-size="6.1" font-weight="bold" text-anchor="start" fill="#000">HL-60</text>
<defs>
<radialGradient id="u0" cx="50%" cy="50%" r="50%"><stop offset="0" stop-color="#bcbcbc"/><stop offset="0.8" stop-color="#b6b6b6"/><stop offset="0.95" stop-color="#a0a0a0"/><stop offset="1" stop-color="#959595"/></radialGradient>
<radialGradient id="u1" cx="50%" cy="50%" r="50%"><stop offset="0" stop-color="#ababab"/><stop offset="0.8" stop-color="#a6a6a6"/><stop offset="0.95" stop-color="#929292"/><stop offset="1" stop-color="#888"/></radialGradient>
<radialGradient id="u2" cx="50%" cy="50%" r="50%"><stop offset="0" stop-color="#b4b4b4"/><stop offset="0.8" stop-color="#b0b0b0"/><stop offset="0.95" stop-color="#9c9c9c"/><stop offset="1" stop-color="#909090"/></radialGradient>
<radialGradient id="u3" cx="50%" cy="50%" r="50%"><stop offset="0" stop-color="#bebebe"/><stop offset="0.8" stop-color="#bababa"/><stop offset="0.95" stop-color="#aaaaaa"/><stop offset="1" stop-color="#a0a0a0"/></radialGradient>
<radialGradient id="h0" cx="50%" cy="50%" r="50%"><stop offset="0" stop-color="#c6c6c6"/><stop offset="0.55" stop-color="#b6b6b6"/><stop offset="0.8" stop-color="#a0a0a0"/><stop offset="0.92" stop-color="#7a7a7a"/><stop offset="1" stop-color="#4a4a4a"/></radialGradient>
<radialGradient id="h1" cx="47%" cy="52%" r="50%"><stop offset="0" stop-color="#f4f4f4"/><stop offset="0.5" stop-color="#e4e4e4"/><stop offset="0.78" stop-color="#bcbcbc"/><stop offset="0.92" stop-color="#808080"/><stop offset="1" stop-color="#404040"/></radialGradient>
<radialGradient id="h2" cx="47%" cy="50%" r="50%"><stop offset="0" stop-color="#e6e6e6"/><stop offset="0.5" stop-color="#d8d8d8"/><stop offset="0.78" stop-color="#b4b4b4"/><stop offset="0.92" stop-color="#848484"/><stop offset="1" stop-color="#444444"/></radialGradient>
<radialGradient id="h3" cx="48%" cy="50%" r="50%"><stop offset="0" stop-color="#cccccc"/><stop offset="0.5" stop-color="#c0c0c0"/><stop offset="0.78" stop-color="#a4a4a4"/><stop offset="0.92" stop-color="#707070"/><stop offset="1" stop-color="#3a3a3a"/></radialGradient>
</defs>
<ellipse cx="41.5" cy="159.3" rx="15.8" ry="13.9" fill="url(#u0)"/>
<ellipse cx="76.0" cy="159.3" rx="15.8" ry="13.9" fill="url(#u1)"/>
<ellipse cx="109.2" cy="159.3" rx="15.8" ry="13.9" fill="url(#u2)"/>
<ellipse cx="142.3" cy="159.3" rx="15.8" ry="13.9" fill="url(#u3)"/>
<ellipse cx="41.5" cy="190.8" rx="16.4" ry="14.6" fill="url(#h0)"/>
<ellipse cx="76.0" cy="190.8" rx="16.4" ry="14.6" fill="url(#h1)"/>
<ellipse cx="109.2" cy="190.8" rx="16.4" ry="14.6" fill="url(#h2)"/>
<ellipse cx="142.3" cy="190.8" rx="16.4" ry="14.6" fill="url(#h3)"/>
<line x1="153.90" y1="207.20" x2="162.30" y2="207.20" stroke="#222" stroke-width="0.75"/>
<text x="157.20" y="205.90" font-size="2.6" font-weight="normal" text-anchor="middle" fill="#444">1 mm</text>
<line x1="28.40" y1="222.40" x2="28.40" y2="286.90" stroke="#888" stroke-width="0.7"/>
<line x1="28.40" y1="286.90" x2="166.50" y2="286.90" stroke="#888" stroke-width="0.8"/>
<line x1="28.40" y1="286.90" x2="29.70" y2="286.90" stroke="#888" stroke-width="0.5"/>
<text x="24.40" y="289.20" font-size="5.6" font-weight="bold" text-anchor="end" fill="#000">0</text>
<line x1="28.40" y1="276.24" x2="29.70" y2="276.24" stroke="#888" stroke-width="0.5"/>
<text x="24.40" y="278.54" font-size="5.6" font-weight="bold" text-anchor="end" fill="#000">20</text>
<line x1="28.40" y1="265.58" x2="29.70" y2="265.58" stroke="#888" stroke-width="0.5"/>
<text x="24.40" y="267.88" font-size="5.6" font-weight="bold" text-anchor="end" fill="#000">40</text>
<line x1="28.40" y1="254.92" x2="29.70" y2="254.92" stroke="#888" stroke-width="0.5"/>
<text x="24.40" y="257.22" font-size="5.6" font-weight="bold" text-anchor="end" fill="#000">60</text>
<line x1="28.40" y1="244.26" x2="29.70" y2="244.26" stroke="#888" stroke-width="0.5"/>
<text x="24.40" y="246.56" font-size="5.6" font-weight="bold" text-anchor="end" fill="#000">80</text>
<line x1="28.40" y1="233.60" x2="29.70" y2="233.60" stroke="#888" stroke-width="0.5"/>
<text x="24.40" y="235.90" font-size="5.6" font-weight="bold" text-anchor="end" fill="#000">100</text>
<line x1="28.40" y1="222.94" x2="29.70" y2="222.94" stroke="#888" stroke-width="0.5"/>
<text x="24.40" y="225.24" font-size="5.6" font-weight="bold" text-anchor="end" fill="#000">120</text>
<text x="5.40" y="254.20" font-size="5.9" font-weight="bold" text-anchor="middle" fill="#000" transform="rotate(-90 5.4 254.2)">Number of clonies</text>
<text x="11.70" y="253.40" font-size="6.04" font-weight="bold" text-anchor="middle" fill="#000" transform="rotate(-90 11.7 253.4)">(% of control)</text>
<rect x="35.00" y="233.60" width="10.30" height="53.30" fill="#000" stroke="none" stroke-width="0.6"/>
<rect x="45.30" y="233.60" width="9.60" height="53.30" fill="#fff" stroke="#aaa" stroke-width="0.6"/>
<rect x="69.70" y="236.26" width="10.30" height="50.63" fill="#000" stroke="none" stroke-width="0.6"/>
<rect x="80.00" y="237.33" width="9.60" height="49.57" fill="#fff" stroke="#aaa" stroke-width="0.6"/>
<line x1="74.80" y1="236.26" x2="74.80" y2="230.93" stroke="#444" stroke-width="0.5"/>
<line x1="73.80" y1="230.93" x2="75.80" y2="230.93" stroke="#444" stroke-width="0.5"/>
<line x1="84.80" y1="237.33" x2="84.80" y2="234.67" stroke="#444" stroke-width="0.5"/>
<line x1="83.80" y1="234.67" x2="85.80" y2="234.67" stroke="#444" stroke-width="0.5"/>
<rect x="104.10" y="249.59" width="10.30" height="37.31" fill="#000" stroke="none" stroke-width="0.6"/>
<rect x="114.40" y="255.99" width="9.60" height="30.91" fill="#fff" stroke="#aaa" stroke-width="0.6"/>
<line x1="109.20" y1="249.59" x2="109.20" y2="246.92" stroke="#444" stroke-width="0.5"/>
<line x1="108.20" y1="246.92" x2="110.20" y2="246.92" stroke="#444" stroke-width="0.5"/>
<line x1="119.20" y1="255.99" x2="119.20" y2="252.25" stroke="#444" stroke-width="0.5"/>
<line x1="118.20" y1="252.25" x2="120.20" y2="252.25" stroke="#444" stroke-width="0.5"/>
<line x1="109.20" y1="241.92" x2="109.20" y2="244.53" stroke="#333" stroke-width="0.75"/>
<line x1="108.07" y1="242.57" x2="110.33" y2="243.88" stroke="#333" stroke-width="0.75"/>
<line x1="110.33" y1="242.57" x2="108.07" y2="243.88" stroke="#333" stroke-width="0.75"/>
<line x1="119.20" y1="247.25" x2="119.20" y2="249.85" stroke="#333" stroke-width="0.75"/>
<line x1="118.07" y1="247.90" x2="120.33" y2="249.20" stroke="#333" stroke-width="0.75"/>
<line x1="120.33" y1="247.90" x2="118.07" y2="249.20" stroke="#333" stroke-width="0.75"/>
<rect x="138.80" y="275.71" width="10.30" height="11.19" fill="#000" stroke="none" stroke-width="0.6"/>
<rect x="149.10" y="274.11" width="9.60" height="12.79" fill="#fff" stroke="#aaa" stroke-width="0.6"/>
<line x1="143.90" y1="275.71" x2="143.90" y2="272.51" stroke="#444" stroke-width="0.5"/>
<line x1="142.90" y1="272.51" x2="144.90" y2="272.51" stroke="#444" stroke-width="0.5"/>
<line x1="153.90" y1="274.11" x2="153.90" y2="270.91" stroke="#444" stroke-width="0.5"/>
<line x1="152.90" y1="270.91" x2="154.90" y2="270.91" stroke="#444" stroke-width="0.5"/>
<line x1="143.90" y1="267.51" x2="143.90" y2="270.11" stroke="#333" stroke-width="0.75"/>
<line x1="142.77" y1="268.16" x2="145.03" y2="269.46" stroke="#333" stroke-width="0.75"/>
<line x1="145.03" y1="268.16" x2="142.77" y2="269.46" stroke="#333" stroke-width="0.75"/>
<line x1="153.90" y1="265.91" x2="153.90" y2="268.51" stroke="#333" stroke-width="0.75"/>
<line x1="152.77" y1="266.56" x2="155.03" y2="267.86" stroke="#333" stroke-width="0.75"/>
<line x1="155.03" y1="266.56" x2="152.77" y2="267.86" stroke="#333" stroke-width="0.75"/>
<text x="46.00" y="297.90" font-size="6.0" font-weight="bold" text-anchor="middle" fill="#000">C</text>
<text x="80.40" y="297.90" font-size="6.0" font-weight="bold" text-anchor="middle" fill="#000">50</text>
<text x="115.20" y="297.90" font-size="6.0" font-weight="bold" text-anchor="middle" fill="#000">100</text>
<text x="149.20" y="297.90" font-size="6.0" font-weight="bold" text-anchor="middle" fill="#000">150</text>
<line x1="76.80" y1="300.50" x2="153.30" y2="300.50" stroke="#000" stroke-width="0.7"/>
<text x="118.20" y="308.20" font-size="6.1" font-weight="bold" text-anchor="middle" fill="#000">wogonoside (µM)</text>
<rect x="135.40" y="228.30" width="2.60" height="2.50" fill="#000" stroke="none" stroke-width="0.6"/>
<text x="140.10" y="231.80" font-size="6.0" font-weight="bold" text-anchor="start" fill="#000">U937</text>
<rect x="135.50" y="235.10" width="2.40" height="2.40" fill="#fff" stroke="#999" stroke-width="0.6"/>
<text x="140.10" y="238.50" font-size="6.0" font-weight="bold" text-anchor="start" fill="#000">HL-60</text>
<text transform="translate(172.80 135.10) scale(1 1.02)" font-size="11.2" font-weight="bold" fill="#000">D</text>
<line x1="200.40" y1="148.20" x2="200.40" y2="201.30" stroke="#222" stroke-width="0.7"/>
<line x1="200.40" y1="201.30" x2="332.50" y2="201.30" stroke="#222" stroke-width="0.7"/>
<line x1="200.40" y1="201.30" x2="202.40" y2="201.30" stroke="#222" stroke-width="0.6"/>
<text x="196.20" y="203.80" font-size="5.7" font-weight="bold" text-anchor="end" fill="#000">0</text>
<line x1="200.40" y1="190.70" x2="202.40" y2="190.70" stroke="#222" stroke-width="0.6"/>
<text x="196.20" y="193.20" font-size="5.7" font-weight="bold" text-anchor="end" fill="#000">1000</text>
<line x1="200.40" y1="180.10" x2="202.40" y2="180.10" stroke="#222" stroke-width="0.6"/>
<text x="196.20" y="182.60" font-size="5.7" font-weight="bold" text-anchor="end" fill="#000">2000</text>
<line x1="200.40" y1="169.50" x2="202.40" y2="169.50" stroke="#222" stroke-width="0.6"/>
<text x="196.20" y="172.00" font-size="5.7" font-weight="bold" text-anchor="end" fill="#000">3000</text>
<line x1="200.40" y1="158.90" x2="202.40" y2="158.90" stroke="#222" stroke-width="0.6"/>
<text x="196.20" y="161.40" font-size="5.7" font-weight="bold" text-anchor="end" fill="#000">4000</text>
<line x1="200.40" y1="148.30" x2="202.40" y2="148.30" stroke="#222" stroke-width="0.6"/>
<text x="196.20" y="150.80" font-size="5.7" font-weight="bold" text-anchor="end" fill="#000">5000</text>
<line x1="216.43" y1="201.30" x2="216.43" y2="199.60" stroke="#222" stroke-width="0.6"/>
<line x1="232.89" y1="201.30" x2="232.89" y2="199.60" stroke="#222" stroke-width="0.6"/>
<line x1="249.35" y1="201.30" x2="249.35" y2="199.60" stroke="#222" stroke-width="0.6"/>
<line x1="265.81" y1="201.30" x2="265.81" y2="199.60" stroke="#222" stroke-width="0.6"/>
<line x1="282.27" y1="201.30" x2="282.27" y2="199.60" stroke="#222" stroke-width="0.6"/>
<line x1="298.73" y1="201.30" x2="298.73" y2="199.60" stroke="#222" stroke-width="0.6"/>
<line x1="315.19" y1="201.30" x2="315.19" y2="199.60" stroke="#222" stroke-width="0.6"/>
<line x1="331.65" y1="201.30" x2="331.65" y2="199.60" stroke="#222" stroke-width="0.6"/>
<text x="208.50" y="212.10" font-size="5.6" font-weight="bold" text-anchor="middle" fill="#000">0</text>
<text x="224.96" y="212.10" font-size="5.6" font-weight="bold" text-anchor="middle" fill="#000">2</text>
<text x="241.42" y="212.10" font-size="5.6" font-weight="bold" text-anchor="middle" fill="#000">4</text>
<text x="257.88" y="212.10" font-size="5.6" font-weight="bold" text-anchor="middle" fill="#000">6</text>
<text x="274.34" y="212.10" font-size="5.6" font-weight="bold" text-anchor="middle" fill="#000">8</text>
<text x="290.80" y="212.10" font-size="5.6" font-weight="bold" text-anchor="middle" fill="#000">10</text>
<text x="307.26" y="212.10" font-size="5.6" font-weight="bold" text-anchor="middle" fill="#000">12</text>
<text x="323.72" y="212.10" font-size="5.6" font-weight="bold" text-anchor="middle" fill="#000">14</text>
<text x="274.10" y="220.90" font-size="6.0" font-weight="bold" text-anchor="middle" fill="#000">Treatment Days</text>
<text x="178.60" y="174.10" font-size="6.05" font-weight="bold" text-anchor="middle" fill="#000" transform="rotate(-90 178.6 174.1)">Tumor volume (mm<tspan font-size="4.1" dy="-2.0">3</tspan><tspan dy="2.0">)</tspan></text>
<polyline points="208.20,200.45 224.66,199.92 241.12,198.86 257.58,197.27 274.04,193.67 290.50,187.52 306.96,182.22 323.42,178.51" fill="none" stroke="#222" stroke-width="0.9" stroke-dasharray="0.9 2.4"/>
<polyline points="208.20,200.24 224.66,199.71 241.12,198.65 257.58,196.85 274.04,192.61 290.50,183.28 306.96,168.44 323.42,163.67" fill="none" stroke="#000" stroke-width="1.2"/>
<path d="M208.20 198.20L209.90 200.24L208.20 202.28L206.50 200.24Z" fill="#000"/>
<path d="M224.66 197.67L226.36 199.71L224.66 201.75L222.96 199.71Z" fill="#000"/>
<line x1="241.12" y1="199.18" x2="241.12" y2="198.12" stroke="#000" stroke-width="0.6"/>
<line x1="240.02" y1="198.12" x2="242.22" y2="198.12" stroke="#000" stroke-width="0.6"/>
<line x1="240.02" y1="199.18" x2="242.22" y2="199.18" stroke="#000" stroke-width="0.6"/>
<path d="M241.12 196.61L242.82 198.65L241.12 200.69L239.42 198.65Z" fill="#000"/>
<line x1="257.58" y1="197.48" x2="257.58" y2="196.21" stroke="#000" stroke-width="0.6"/>
<line x1="256.48" y1="196.21" x2="258.68" y2="196.21" stroke="#000" stroke-width="0.6"/>
<line x1="256.48" y1="197.48" x2="258.68" y2="197.48" stroke="#000" stroke-width="0.6"/>
<path d="M257.58 194.81L259.28 196.85L257.58 198.89L255.88 196.85Z" fill="#000"/>
<line x1="274.04" y1="193.88" x2="274.04" y2="191.34" stroke="#000" stroke-width="0.6"/>
<line x1="272.94" y1="191.34" x2="275.14" y2="191.34" stroke="#000" stroke-width="0.6"/>
<line x1="272.94" y1="193.88" x2="275.14" y2="193.88" stroke="#000" stroke-width="0.6"/>
<path d="M274.04 190.57L275.74 192.61L274.04 194.65L272.34 192.61Z" fill="#000"/>
<line x1="290.50" y1="186.99" x2="290.50" y2="179.57" stroke="#000" stroke-width="0.6"/>
<line x1="289.40" y1="179.57" x2="291.60" y2="179.57" stroke="#000" stroke-width="0.6"/>
<line x1="289.40" y1="186.99" x2="291.60" y2="186.99" stroke="#000" stroke-width="0.6"/>
<path d="M290.50 181.24L292.20 183.28L290.50 185.32L288.80 183.28Z" fill="#000"/>
<line x1="306.96" y1="173.74" x2="306.96" y2="163.14" stroke="#000" stroke-width="0.6"/>
<line x1="305.86" y1="163.14" x2="308.06" y2="163.14" stroke="#000" stroke-width="0.6"/>
<line x1="305.86" y1="173.74" x2="308.06" y2="173.74" stroke="#000" stroke-width="0.6"/>
<path d="M306.96 166.40L308.66 168.44L306.96 170.48L305.26 168.44Z" fill="#000"/>
<line x1="323.42" y1="167.91" x2="323.42" y2="159.43" stroke="#000" stroke-width="0.6"/>
<line x1="322.32" y1="159.43" x2="324.52" y2="159.43" stroke="#000" stroke-width="0.6"/>
<line x1="322.32" y1="167.91" x2="324.52" y2="167.91" stroke="#000" stroke-width="0.6"/>
<path d="M323.42 161.63L325.12 163.67L323.42 165.71L321.72 163.67Z" fill="#000"/>
<path d="M208.20 198.53L209.95 201.85L206.45 201.85Z" fill="#000"/>
<path d="M224.66 198.00L226.41 201.32L222.91 201.32Z" fill="#000"/>
<line x1="241.12" y1="198.86" x2="241.12" y2="198.44" stroke="#222" stroke-width="0.8" stroke-dasharray="0.9 1.2"/>
<line x1="240.02" y1="198.44" x2="242.22" y2="198.44" stroke="#222" stroke-width="0.7"/>
<path d="M241.12 196.94L242.87 200.26L239.37 200.26Z" fill="#000"/>
<line x1="257.58" y1="197.27" x2="257.58" y2="196.74" stroke="#222" stroke-width="0.8" stroke-dasharray="0.9 1.2"/>
<line x1="256.48" y1="196.74" x2="258.68" y2="196.74" stroke="#222" stroke-width="0.7"/>
<path d="M257.58 195.35L259.33 198.67L255.83 198.67Z" fill="#000"/>
<line x1="274.04" y1="193.67" x2="274.04" y2="192.61" stroke="#222" stroke-width="0.8" stroke-dasharray="0.9 1.2"/>
<line x1="272.94" y1="192.61" x2="275.14" y2="192.61" stroke="#222" stroke-width="0.7"/>
<path d="M274.04 191.74L275.79 195.07L272.29 195.07Z" fill="#000"/>
<line x1="290.50" y1="187.52" x2="290.50" y2="184.87" stroke="#222" stroke-width="0.8" stroke-dasharray="0.9 1.2"/>
<line x1="289.40" y1="184.87" x2="291.60" y2="184.87" stroke="#222" stroke-width="0.7"/>
<path d="M290.50 185.59L292.25 188.92L288.75 188.92Z" fill="#000"/>
<line x1="306.96" y1="182.22" x2="306.96" y2="178.83" stroke="#222" stroke-width="0.8" stroke-dasharray="0.9 1.2"/>
<line x1="305.86" y1="178.83" x2="308.06" y2="178.83" stroke="#222" stroke-width="0.7"/>
<path d="M306.96 180.30L308.71 183.62L305.21 183.62Z" fill="#000"/>
<line x1="323.42" y1="178.51" x2="323.42" y2="168.97" stroke="#222" stroke-width="0.8" stroke-dasharray="0.9 1.2"/>
<line x1="322.32" y1="168.97" x2="324.52" y2="168.97" stroke="#222" stroke-width="0.7"/>
<path d="M323.42 176.59L325.17 179.91L321.67 179.91Z" fill="#000"/>
<line x1="214.60" y1="155.60" x2="227.90" y2="155.60" stroke="#000" stroke-width="1.1"/>
<path d="M221.50 153.80L223.00 155.60L221.50 157.40L220.00 155.60Z" fill="#000"/>
<text x="231.00" y="158.20" font-size="6.0" font-weight="bold" text-anchor="start" fill="#000">C</text>
<line x1="214.60" y1="162.70" x2="227.90" y2="162.70" stroke="#222" stroke-width="0.9" stroke-dasharray="1.4 2.6"/>
<path d="M221.20 160.94L222.80 163.98L219.60 163.98Z" fill="#000"/>
<text x="231.00" y="164.60" font-size="6.0" font-weight="bold" text-anchor="start" fill="#000">wogonoside</text>
<line x1="201.30" y1="230.50" x2="201.30" y2="297.80" stroke="#222" stroke-width="0.7"/>
<line x1="201.30" y1="297.80" x2="298.00" y2="297.80" stroke="#222" stroke-width="0.7"/>
<line x1="201.30" y1="297.80" x2="203.30" y2="297.80" stroke="#222" stroke-width="0.6"/>
<text x="197.10" y="300.10" font-size="5.6" font-weight="bold" text-anchor="end" fill="#000">0</text>
<line x1="201.30" y1="286.77" x2="203.30" y2="286.77" stroke="#222" stroke-width="0.6"/>
<text x="197.10" y="289.07" font-size="5.6" font-weight="bold" text-anchor="end" fill="#000">500</text>
<line x1="201.30" y1="275.74" x2="203.30" y2="275.74" stroke="#222" stroke-width="0.6"/>
<text x="197.10" y="278.04" font-size="5.6" font-weight="bold" text-anchor="end" fill="#000">1000</text>
<line x1="201.30" y1="264.71" x2="203.30" y2="264.71" stroke="#222" stroke-width="0.6"/>
<text x="197.10" y="267.01" font-size="5.6" font-weight="bold" text-anchor="end" fill="#000">1500</text>
<line x1="201.30" y1="253.68" x2="203.30" y2="253.68" stroke="#222" stroke-width="0.6"/>
<text x="197.10" y="255.98" font-size="5.6" font-weight="bold" text-anchor="end" fill="#000">2000</text>
<line x1="201.30" y1="242.65" x2="203.30" y2="242.65" stroke="#222" stroke-width="0.6"/>
<text x="197.10" y="244.95" font-size="5.6" font-weight="bold" text-anchor="end" fill="#000">2500</text>
<line x1="201.30" y1="231.62" x2="203.30" y2="231.62" stroke="#222" stroke-width="0.6"/>
<text x="197.10" y="233.92" font-size="5.6" font-weight="bold" text-anchor="end" fill="#000">3000</text>
<text x="180.50" y="262.70" font-size="6.05" font-weight="bold" text-anchor="middle" fill="#000" transform="rotate(-90 180.5 262.7)">Tumor weight (mg)</text>
<rect x="221.90" y="249.27" width="18.60" height="48.53" fill="#fff" stroke="#000" stroke-width="0.7"/>
<line x1="231.20" y1="249.27" x2="231.20" y2="241.55" stroke="#000" stroke-width="0.6"/>
<line x1="229.80" y1="241.55" x2="232.60" y2="241.55" stroke="#000" stroke-width="0.6"/>
<rect x="257.00" y="269.12" width="19.50" height="28.68" fill="#000" stroke="none" stroke-width="0.6"/>
<line x1="266.70" y1="269.12" x2="266.70" y2="261.40" stroke="#000" stroke-width="0.6"/>
<line x1="265.30" y1="261.40" x2="268.10" y2="261.40" stroke="#000" stroke-width="0.6"/>
<line x1="266.70" y1="256.30" x2="266.70" y2="258.90" stroke="#333" stroke-width="0.75"/>
<line x1="265.57" y1="256.95" x2="267.83" y2="258.25" stroke="#333" stroke-width="0.75"/>
<line x1="267.83" y1="256.95" x2="265.57" y2="258.25" stroke="#333" stroke-width="0.75"/>
<rect x="262.80" y="231.70" width="2.50" height="2.50" fill="#fff" stroke="#000" stroke-width="0.6"/>
<text x="267.50" y="235.00" font-size="6.0" font-weight="bold" text-anchor="start" fill="#000">C</text>
<rect x="262.70" y="238.30" width="2.70" height="2.70" fill="#000" stroke="none" stroke-width="0.6"/>
<text x="267.60" y="241.70" font-size="6.0" font-weight="bold" text-anchor="start" fill="#000">wogonoside</text>
<text transform="translate(344.80 135.30) scale(1 1.05)" font-size="11.2" font-weight="bold" fill="#000">E</text>
<line x1="365.00" y1="141.60" x2="365.00" y2="221.70" stroke="#555" stroke-width="1.1"/>
<line x1="365.00" y1="221.70" x2="485.00" y2="221.70" stroke="#555" stroke-width="1.1"/>
<line x1="363.30" y1="221.70" x2="365.00" y2="221.70" stroke="#555" stroke-width="0.8"/>
<text x="361.90" y="223.60" font-size="5.4" font-weight="bold" text-anchor="end" fill="#000">0</text>
<line x1="363.30" y1="205.74" x2="365.00" y2="205.74" stroke="#555" stroke-width="0.8"/>
<text x="361.90" y="207.64" font-size="5.4" font-weight="bold" text-anchor="end" fill="#000">20</text>
<line x1="363.30" y1="189.78" x2="365.00" y2="189.78" stroke="#555" stroke-width="0.8"/>
<text x="361.90" y="191.68" font-size="5.4" font-weight="bold" text-anchor="end" fill="#000">40</text>
<line x1="363.30" y1="173.82" x2="365.00" y2="173.82" stroke="#555" stroke-width="0.8"/>
<text x="361.90" y="175.72" font-size="5.4" font-weight="bold" text-anchor="end" fill="#000">60</text>
<line x1="363.30" y1="157.86" x2="365.00" y2="157.86" stroke="#555" stroke-width="0.8"/>
<text x="361.90" y="159.76" font-size="5.4" font-weight="bold" text-anchor="end" fill="#000">80</text>
<line x1="363.30" y1="141.90" x2="365.00" y2="141.90" stroke="#555" stroke-width="0.8"/>
<text x="361.90" y="143.80" font-size="5.4" font-weight="bold" text-anchor="end" fill="#000">100</text>
<line x1="365.00" y1="221.70" x2="365.00" y2="223.30" stroke="#555" stroke-width="0.8"/>
<text x="365.00" y="230.10" font-size="5.4" font-weight="bold" text-anchor="middle" fill="#000">0</text>
<line x1="395.00" y1="221.70" x2="395.00" y2="223.30" stroke="#555" stroke-width="0.8"/>
<text x="395.00" y="230.10" font-size="5.4" font-weight="bold" text-anchor="middle" fill="#000">20</text>
<line x1="425.00" y1="221.70" x2="425.00" y2="223.30" stroke="#555" stroke-width="0.8"/>
<text x="425.00" y="230.10" font-size="5.4" font-weight="bold" text-anchor="middle" fill="#000">40</text>
<line x1="455.00" y1="221.70" x2="455.00" y2="223.30" stroke="#555" stroke-width="0.8"/>
<text x="455.00" y="230.10" font-size="5.4" font-weight="bold" text-anchor="middle" fill="#000">60</text>
<line x1="485.00" y1="221.70" x2="485.00" y2="223.30" stroke="#555" stroke-width="0.8"/>
<text x="485.00" y="230.10" font-size="5.4" font-weight="bold" text-anchor="middle" fill="#000">80</text>
<text x="490.90" y="230.10" font-size="5.9" font-weight="bold" text-anchor="start" fill="#000">(day)</text>
<text x="350.30" y="181.40" font-size="6.0" font-weight="bold" text-anchor="middle" fill="#000" transform="rotate(-90 350.3 181.4)">% survival</text>
<line x1="365.00" y1="141.90" x2="454.20" y2="141.90" stroke="#5a5a5a" stroke-width="1.2"/>
<polyline points="365.00,141.90 380.00,141.90 380.00,155.23 384.50,155.23 384.50,168.47 386.00,168.47 386.00,181.80 387.50,181.80 387.50,195.13 389.00,195.13 389.00,208.37 392.00,208.37 392.00,221.70" fill="none" stroke="#5a5a5a" stroke-width="1.2"/>
<polyline points="365.00,141.90 395.00,141.90 395.00,155.23 398.00,155.23 398.00,168.47 405.50,168.47 405.50,181.80 410.00,181.80 410.00,195.13 428.00,195.13 428.00,208.37 455.00,208.37" fill="none" stroke="#5a5a5a" stroke-width="1.2"/>
<circle cx="380.30" cy="155.23" r="1.60" fill="#000"/>
<circle cx="384.80" cy="168.47" r="1.60" fill="#000"/>
<circle cx="386.30" cy="181.80" r="1.60" fill="#000"/>
<circle cx="387.80" cy="195.13" r="1.60" fill="#000"/>
<circle cx="389.30" cy="208.37" r="1.60" fill="#000"/>
<circle cx="392.30" cy="221.70" r="1.60" fill="#000"/>
<rect x="393.91" y="153.83" width="2.79" height="2.79" fill="#000" stroke="none" stroke-width="0.6"/>
<rect x="396.91" y="167.08" width="2.79" height="2.79" fill="#000" stroke="none" stroke-width="0.6"/>
<rect x="404.41" y="180.40" width="2.79" height="2.79" fill="#000" stroke="none" stroke-width="0.6"/>
<rect x="408.91" y="193.73" width="2.79" height="2.79" fill="#000" stroke="none" stroke-width="0.6"/>
<rect x="426.91" y="206.98" width="2.79" height="2.79" fill="#000" stroke="none" stroke-width="0.6"/>
<rect x="453.61" y="206.98" width="2.79" height="2.79" fill="#000" stroke="none" stroke-width="0.6"/>
<line x1="473.90" y1="147.30" x2="483.10" y2="147.30" stroke="#333" stroke-width="1.1"/>
<circle cx="478.60" cy="147.30" r="1.30" fill="#000"/>
<text x="487.60" y="149.40" font-size="5.9" font-weight="normal" text-anchor="start" fill="#000">C</text>
<line x1="473.90" y1="156.80" x2="483.10" y2="156.80" stroke="#333" stroke-width="1.1"/>
<circle cx="478.60" cy="156.80" r="1.70" fill="#000"/>
<text x="487.60" y="159.10" font-size="5.9" font-weight="normal" text-anchor="start" fill="#000">wogonoside</text>
<line x1="473.90" y1="165.70" x2="483.10" y2="165.70" stroke="#444" stroke-width="1.1"/>
<text x="487.60" y="167.90" font-size="5.9" font-weight="normal" text-anchor="start" fill="#000">blank</text>
</svg>
</body></html>
